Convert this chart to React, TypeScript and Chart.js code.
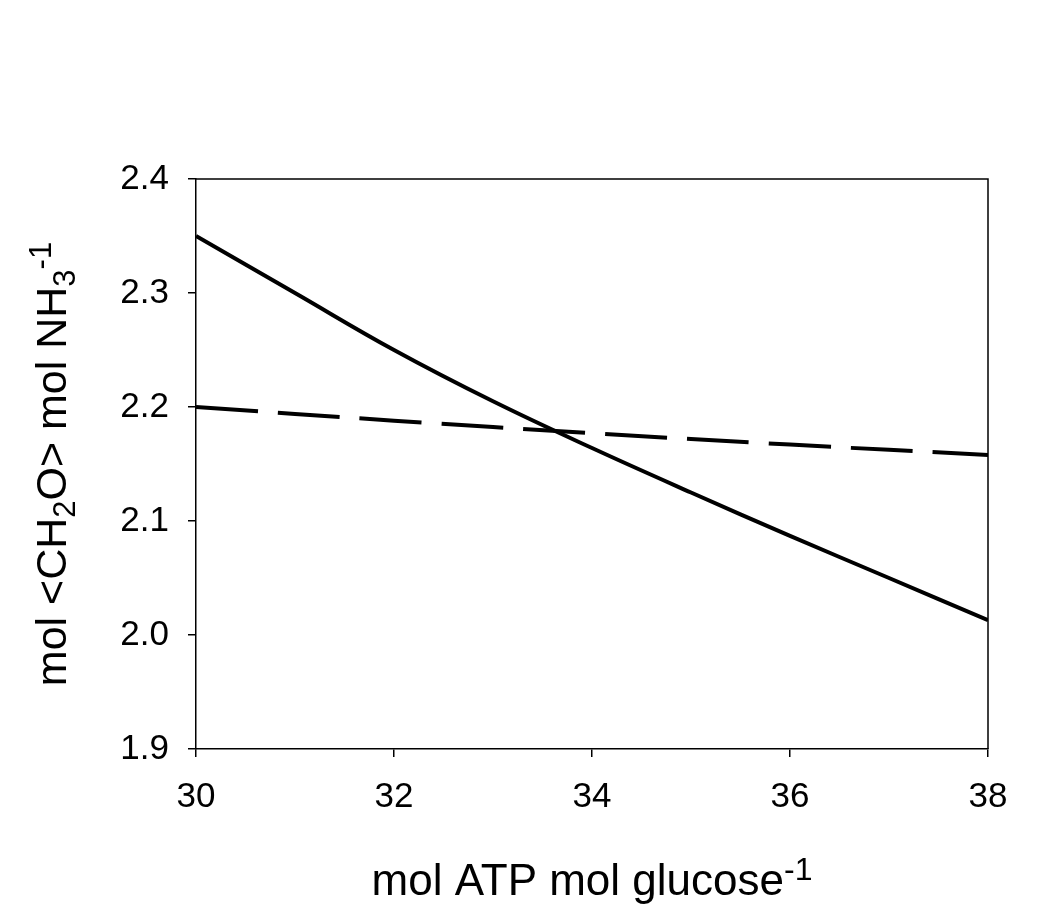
import React, { useEffect, useRef } from "react";
import { Chart, registerables } from "chart.js";

Chart.register(...registerables);

const xSolid = [30, 31, 32, 33, 34, 35, 36, 37, 38];
const ySolid = [2.35, 2.3, 2.25, 2.205, 2.164, 2.125, 2.087, 2.05, 2.013];
const xDashed = [30, 32, 34, 36, 38];
const yDashed = [2.2, 2.188, 2.177, 2.167, 2.158];
const xTicks = [30, 32, 34, 36, 38];
const yTicks = [1.9, 2.0, 2.1, 2.2, 2.3, 2.4];

const FONT = "'Liberation Sans', Arial, sans-serif";

type Seg = { t: string; size: number; dy: number };

const xTitle: Seg[] = [
  { t: "mol ATP mol glucose", size: 44, dy: 0 },
  { t: "-1", size: 32, dy: -15 },
];
const yTitle: Seg[] = [
  { t: "mol <CH", size: 43, dy: 0 },
  { t: "2", size: 31, dy: 9 },
  { t: "O> mol NH", size: 43, dy: 0 },
  { t: "3", size: 31, dy: 9 },
  { t: "-1", size: 31, dy: -15 },
];

function drawSegs(ctx: CanvasRenderingContext2D, segs: Seg[], cx: number, baseY: number) {
  let total = 0;
  for (const s of segs) {
    ctx.font = `${s.size}px ${FONT}`;
    total += ctx.measureText(s.t).width;
  }
  let x = cx - total / 2;
  ctx.textAlign = "left";
  ctx.textBaseline = "alphabetic";
  for (const s of segs) {
    ctx.font = `${s.size}px ${FONT}`;
    ctx.fillText(s.t, x, baseY + s.dy);
    x += ctx.measureText(s.t).width;
  }
}

const framePlugin = {
  id: "frameAndTitles",
  afterDraw(chart: any) {
    const { ctx, chartArea } = chart;
    const { left, right, top, bottom } = chartArea;
    ctx.save();
    ctx.strokeStyle = "#000";
    ctx.lineWidth = 1.5;
    ctx.beginPath();
    ctx.moveTo(left, top);
    ctx.lineTo(right, top);
    ctx.lineTo(right, bottom);
    ctx.stroke();
    ctx.fillStyle = "#000";
    drawSegs(ctx, xTitle, (left + right) / 2, 887);
    ctx.translate(58, (top + bottom) / 2);
    ctx.rotate(-Math.PI / 2);
    drawSegs(ctx, yTitle, 0, 0);
    ctx.restore();
  },
};

export default function App() {
  const ref = useRef<HTMLCanvasElement | null>(null);
  useEffect(() => {
    if (!ref.current) return;
    const chart = new Chart(ref.current, {
      type: "line",
      data: {
        datasets: [
          {
            data: xSolid.map((x, i) => ({ x, y: ySolid[i] })),
            borderColor: "#000",
            borderWidth: 4,
            pointRadius: 0,
            tension: 0.4,
            fill: false,
          },
          {
            data: xDashed.map((x, i) => ({ x, y: yDashed[i] })),
            borderColor: "#000",
            borderWidth: 4,
            borderDash: [62, 20],
            pointRadius: 0,
            tension: 0.4,
            fill: false,
          },
        ],
      },
      options: {
        animation: false,
        responsive: false,
        layout: { padding: { top: 171, right: 68, left: 0, bottom: 0 } },
        plugins: { legend: { display: false }, tooltip: { enabled: false } },
        scales: {
          x: {
            type: "linear",
            min: 30,
            max: 38,
            afterBuildTicks: (s: any) => {
              s.ticks = xTicks.map((v) => ({ value: v }));
            },
            afterFit: (s: any) => {
              s.height = 156;
            },
            grid: { drawOnChartArea: false, tickLength: 8, color: "#000", lineWidth: 1.5 },
            border: { display: true, color: "#000", width: 1.5 },
            ticks: {
              color: "#000",
              font: { family: FONT, size: 35 },
              padding: 19,
              maxRotation: 0,
              callback: (v: any) => String(v),
            },
          },
          y: {
            type: "linear",
            min: 1.9,
            max: 2.4,
            afterBuildTicks: (s: any) => {
              s.ticks = yTicks.map((v) => ({ value: v }));
            },
            afterFit: (s: any) => {
              s.width = 188;
            },
            grid: { drawOnChartArea: false, tickLength: 8, color: "#000", lineWidth: 1.5 },
            border: { display: true, color: "#000", width: 1.5 },
            ticks: {
              color: "#000",
              font: { family: FONT, size: 35 },
              padding: 19,
              callback: (v: any) => Number(v).toFixed(1),
            },
          },
        },
      },
      plugins: [framePlugin],
    } as any);
    return () => chart.destroy();
  }, []);
  return (
    <div style={{ width: 1048, height: 897 }}>
      <canvas ref={ref} width={1048} height={897} style={{ width: 1048, height: 897 }} />
    </div>
  );
}
